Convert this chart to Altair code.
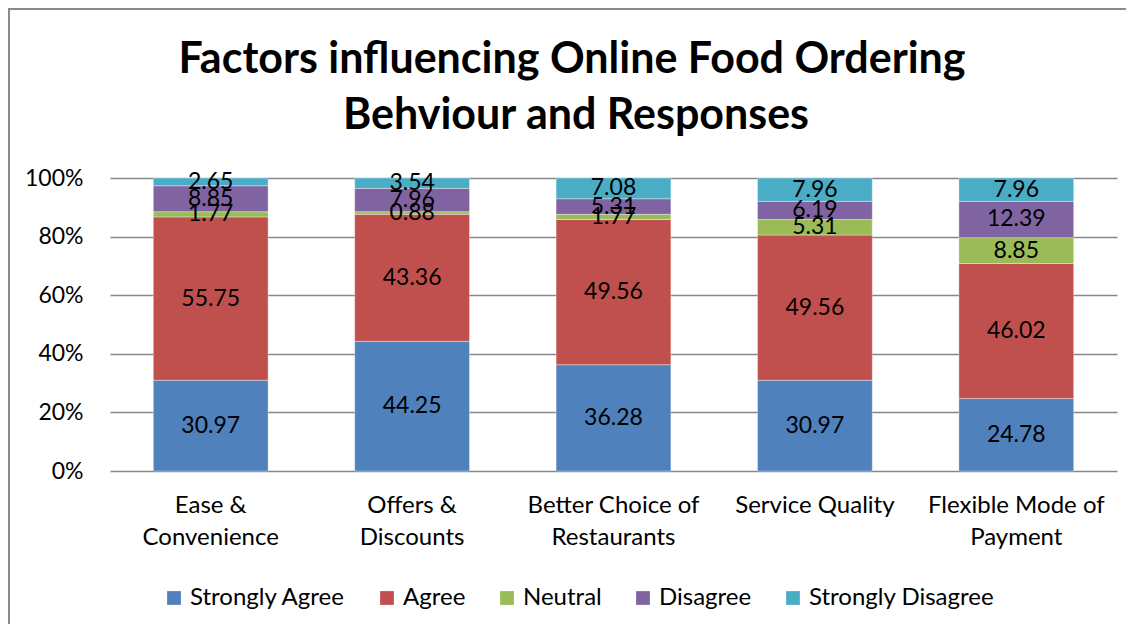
import altair as alt
import pandas as pd
import json

categories = ["Ease & Convenience", "Offers & Discounts", "Better Choice of Restaurants",
              "Service Quality", "Flexible Mode of Payment"]
label_lines = [["Ease &", "Convenience"], ["Offers &", "Discounts"],
               ["Better Choice of", "Restaurants"], ["Service Quality"],
               ["Flexible Mode of", "Payment"]]
series = ["Strongly Agree", "Agree", "Neutral", "Disagree", "Strongly Disagree"]
colors = ["#4F81BD", "#C0504D", "#9BBB59", "#8064A2", "#4BACC6"]
title_lines = ["Factors influencing Online Food Ordering", "Behviour and Responses"]

strongly_agree = [30.97, 44.25, 36.28, 30.97, 24.78]
agree = [55.75, 43.36, 49.56, 49.56, 46.02]
neutral = [1.77, 0.88, 1.77, 5.31, 8.85]
disagree = [8.85, 7.96, 5.31, 6.19, 12.39]
strongly_disagree = [2.65, 3.54, 7.08, 7.96, 7.96]

values = [strongly_agree, agree, neutral, disagree, strongly_disagree]
rows = []
for si, (s, vals) in enumerate(zip(series, values)):
    for c, v in zip(categories, vals):
        rows.append({"category": c, "series": s, "order": si, "value": v})
df = pd.DataFrame(rows)

FONT = "Lato"
label_map = "{" + ", ".join(json.dumps(c) + ": " + json.dumps(l) for c, l in zip(categories, label_lines)) + "}"

base = alt.Chart(df).transform_stack(
    stack="value", groupby=["category"], as_=["y0", "y1"], offset="normalize",
    sort=[alt.SortField("order", order="ascending")]
).transform_calculate(mid="(datum.y0 + datum.y1) / 2")

x_enc = alt.X("category:N", sort=categories, title=None,
              scale=alt.Scale(paddingInner=0.43, paddingOuter=0.215),
              axis=alt.Axis(labelAngle=0, ticks=False, domain=False, labelPadding=22,
                            labelFontSize=24, labelFont=FONT, labelColor="#000000",
                            labelLineHeight=32, labelExpr=label_map + "[datum.label]"))

bars = base.mark_bar(stroke="#ffffff", strokeWidth=0.6, strokeOpacity=0.6).encode(
    x=x_enc,
    y=alt.Y("y0:Q", title=None,
            scale=alt.Scale(domain=[0, 1], nice=False),
            axis=alt.Axis(values=[0, 0.2, 0.4, 0.6, 0.8, 1.0], format=".0%", domain=False,
                          ticks=False, labelPadding=27, labelFontSize=23, labelFont=FONT,
                          labelColor="#000000", gridColor="#878787", gridWidth=1.4)),
    y2="y1:Q",
    color=alt.Color("series:N", sort=series,
                    scale=alt.Scale(domain=series, range=colors),
                    legend=alt.Legend(title=None, orient="none", direction="horizontal",
                                      legendX=52, legendY=408, symbolType="square",
                                      symbolSize=190, symbolStrokeWidth=0, labelFontSize=24,
                                      labelFont=FONT, labelColor="#000000", labelOffset=4,
                                      labelLimit=0, columnPadding=29, padding=0,
                                      symbolOpacity=1)),
    order=alt.Order("order:Q"),
)

labels = base.mark_text(fontSize=23, font=FONT, color="#000000").encode(
    x=alt.X("category:N", sort=categories),
    y=alt.Y("mid:Q"),
    text=alt.Text("value:Q", format=".2f"),
)

border = alt.Chart(pd.DataFrame({"a": [0]})).mark_rect(
    fill=None, stroke="#8a8a8a", strokeWidth=2
).encode(x=alt.value(-101), x2=alt.value(1200), y=alt.value(-169), y2=alt.value(600))

title_df = pd.DataFrame({"t": title_lines, "i": [0, 1]})
title1 = alt.Chart(title_df).transform_filter("datum.i == 0").mark_text(
    font=FONT, fontSize=43, fontWeight="bold", color="#000000", baseline="alphabetic", align="center"
).encode(text="t:N", x=alt.value(462), y=alt.value(-105))
title2 = alt.Chart(title_df).transform_filter("datum.i == 1").mark_text(
    font=FONT, fontSize=43, fontWeight="bold", color="#000000", baseline="alphabetic", align="center"
).encode(text="t:N", x=alt.value(466), y=alt.value(-49))

chart = alt.layer(border, bars, labels, title1, title2).properties(
    width=1007, height=293,
    padding={"left": 102, "top": 170, "right": 9, "bottom": 153},
    autosize=alt.AutoSizeParams(type="none"),
).configure_view(stroke=None)

chart.save("out.html", embed_options={"renderer": "svg", "actions": False})
